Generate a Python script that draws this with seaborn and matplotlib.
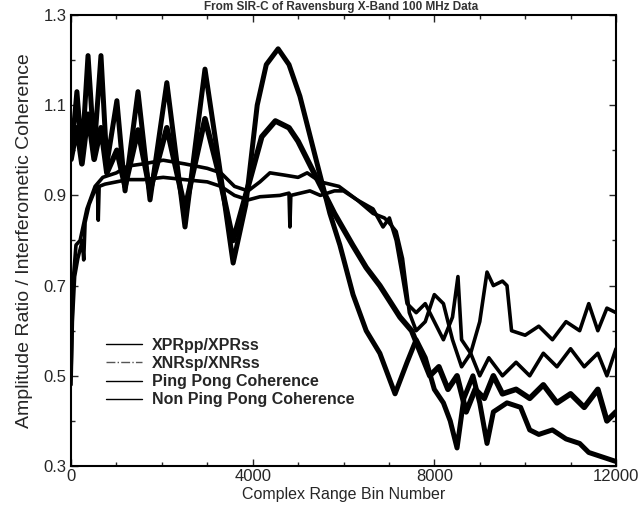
import numpy as np
import pandas as pd
import matplotlib
matplotlib.use('Agg')
import matplotlib.pyplot as plt
import seaborn as sns

# 读出的曲线数据 (Complex Range Bin Number, 数值)
xpr_x = [0, 60, 130, 240, 375, 510, 660, 790, 1010, 1190, 1475, 1740, 2110, 2510, 2950, 3260,
         3570, 3850, 4100, 4300, 4560, 4800, 5040, 5420, 5700, 5920, 6210, 6500, 6800, 7135,
         7400, 7600, 7800, 8000, 8200, 8350, 8500, 8650, 8850, 9000, 9160, 9300, 9600, 9900,
         10100, 10300, 10600, 10900, 11200, 11400, 11700, 12000]
xpr_y = [1.00, 1.05, 1.13, 0.99, 1.21, 1.00, 1.21, 0.97, 1.11, 0.91, 1.13, 0.89, 1.15, 0.83, 1.18, 0.97,
         0.75, 0.88, 1.10, 1.19, 1.225, 1.19, 1.12, 0.97, 0.86, 0.79, 0.68, 0.60, 0.55, 0.46,
         0.53, 0.58, 0.54, 0.47, 0.44, 0.40, 0.34, 0.45, 0.50, 0.44, 0.35, 0.42, 0.44, 0.43,
         0.38, 0.37, 0.38, 0.36, 0.35, 0.33, 0.32, 0.31]

xnr_x = [0, 130, 240, 375, 510, 660, 790, 1010, 1190, 1475, 1740, 2110, 2510, 2950, 3250, 3570,
         3900, 4200, 4500, 4800, 5000, 5400, 5800, 6200, 6500, 6800, 7245, 7500, 7700, 7900,
         8100, 8300, 8500, 8700, 8900, 9100, 9300, 9500, 9800, 10100, 10400, 10700, 11000,
         11300, 11600, 11800, 12000]
xnr_y = [0.98, 1.05, 0.97, 1.08, 0.98, 1.05, 0.95, 1.00, 0.92, 1.045, 0.91, 1.05, 0.87, 1.07, 0.95, 0.80,
         0.92, 1.03, 1.065, 1.05, 1.02, 0.94, 0.86, 0.79, 0.74, 0.70, 0.63, 0.60, 0.55, 0.50,
         0.52, 0.47, 0.50, 0.42, 0.47, 0.45, 0.50, 0.46, 0.47, 0.45, 0.48, 0.44, 0.46,
         0.43, 0.47, 0.40, 0.42]

pp_x = [0, 40, 110, 200, 350, 530, 700, 1000, 1250, 1600, 2030, 2500, 3000, 3300, 3600, 3900,
        4160, 4380, 4700, 5000, 5200, 5490, 5900, 6300, 6650, 6870, 7010, 7160, 7300, 7400,
        7600, 7800, 8000, 8200, 8400, 8520, 8600, 8800, 9000, 9160, 9300, 9500, 9600, 9700,
        10000, 10300, 10600, 10900, 11200, 11400, 11600, 11800, 12000]
pp_y = [0.50, 0.70, 0.79, 0.80, 0.87, 0.92, 0.94, 0.95, 0.965, 0.97, 0.978, 0.97, 0.96, 0.95, 0.92, 0.91,
        0.93, 0.95, 0.945, 0.94, 0.95, 0.93, 0.92, 0.89, 0.87, 0.83, 0.85, 0.80, 0.72, 0.66,
        0.64, 0.66, 0.62, 0.58, 0.63, 0.72, 0.58, 0.55, 0.62, 0.73, 0.70, 0.71, 0.70, 0.60,
        0.59, 0.61, 0.58, 0.62, 0.60, 0.66, 0.60, 0.65, 0.64]

npp_x = [0, 30, 80, 150, 250, 280, 310, 400, 520, 580, 600, 620, 750, 1000, 1250, 1600, 2030,
         2500, 3000, 3300, 3600, 3900, 4160, 4600, 4800, 4820, 4840, 5260, 5490, 5800, 6000,
         6300, 6650, 6900, 7000, 7160, 7300, 7450, 7600, 7800, 8000, 8200, 8400, 8600, 8800,
         9000, 9200, 9500, 9800, 10100, 10400, 10700, 11000, 11300, 11600, 11800, 12000]
npp_y = [0.48, 0.62, 0.72, 0.76, 0.80, 0.757, 0.84, 0.88, 0.91, 0.92, 0.845, 0.92, 0.925, 0.93, 0.935, 0.935, 0.94,
         0.935, 0.93, 0.92, 0.90, 0.89, 0.897, 0.90, 0.905, 0.83, 0.90, 0.91, 0.90, 0.91, 0.91,
         0.89, 0.86, 0.85, 0.84, 0.82, 0.76, 0.64, 0.60, 0.62, 0.68, 0.66, 0.58, 0.52, 0.55,
         0.50, 0.54, 0.50, 0.53, 0.50, 0.55, 0.52, 0.56, 0.52, 0.55, 0.50, 0.56]

series_names = ['XPRpp/XPRss', 'XNRsp/XNRss', 'Ping Pong Coherence', 'Non Ping Pong Coherence']
series_x = [xpr_x, xnr_x, pp_x, npp_x]
series_y = [xpr_y, xnr_y, pp_y, npp_y]
line_widths = [3.6, 4.0, 2.6, 2.6]

title_text = 'From SIR-C of Ravensburg X-Band 100 MHz Data'

# 整理成长表
frames = []
for name, xs, ys in zip(series_names, series_x, series_y):
    frames.append(pd.DataFrame({'bin': xs, 'value': ys, 'series': name}))
df = pd.concat(frames, ignore_index=True)

sns.set_style('ticks')
plt.rcParams['font.family'] = ['Liberation Sans', 'DejaVu Sans']

fig = plt.figure(figsize=(6.38, 5.13), dpi=100)
ax = fig.add_axes([71 / 638, 47 / 513, 545 / 638, 451 / 513])

for name, lw in zip(series_names, line_widths):
    sns.lineplot(data=df[df['series'] == name], x='bin', y='value', ax=ax,
                 color='black', lw=lw, label=name, estimator=None, sort=True)

ax.set_xlim(0, 12000)
ax.set_ylim(0.3, 1.3)
ax.set_xticks([0, 4000, 8000, 12000])
ax.set_xticks(np.arange(0, 12001, 1000), minor=True)
ax.set_yticks([0.3, 0.5, 0.7, 0.9, 1.1, 1.3])
ax.set_yticks(np.arange(0.3, 1.301, 0.1), minor=True)
ax.set_xticklabels(['0', '4000', '8000', '12000'])
ax.set_yticklabels(['0.3', '0.5', '0.7', '0.9', '1.1', '1.3'])
ax.tick_params(which='both', direction='in', top=True, right=True, labelsize=12, width=1)
ax.tick_params(which='major', length=5)
ax.tick_params(which='minor', length=3)
ax.tick_params(axis='x', pad=2)
ax.tick_params(axis='y', pad=3)
for sp in ax.spines.values():
    sp.set_linewidth(1.5)
    sp.set_color('black')

ax.set_xlabel('Complex Range Bin Number', fontsize=11.5, labelpad=2)
ax.set_ylabel('Amplitude Ratio / Interferometic Coherence', fontsize=14, labelpad=8)

leg = ax.legend(loc='center left', bbox_to_anchor=(0.05, 0.207), frameon=False,
                borderpad=0, handlelength=2.25, handletextpad=0.6, labelspacing=0.2,
                prop={'weight': 'bold', 'size': 11.5})
for i, line in enumerate(leg.get_lines()):
    line.set_linewidth(1.0)
    if i == 1:
        line.set_linestyle('-.')
        line.set_color('#555555')

fig.text(0.535, 0.999, title_text, ha='center', va='top', fontsize=8.5, fontweight='bold',
         color='#333333')

fig.savefig('out.png', dpi=100)
